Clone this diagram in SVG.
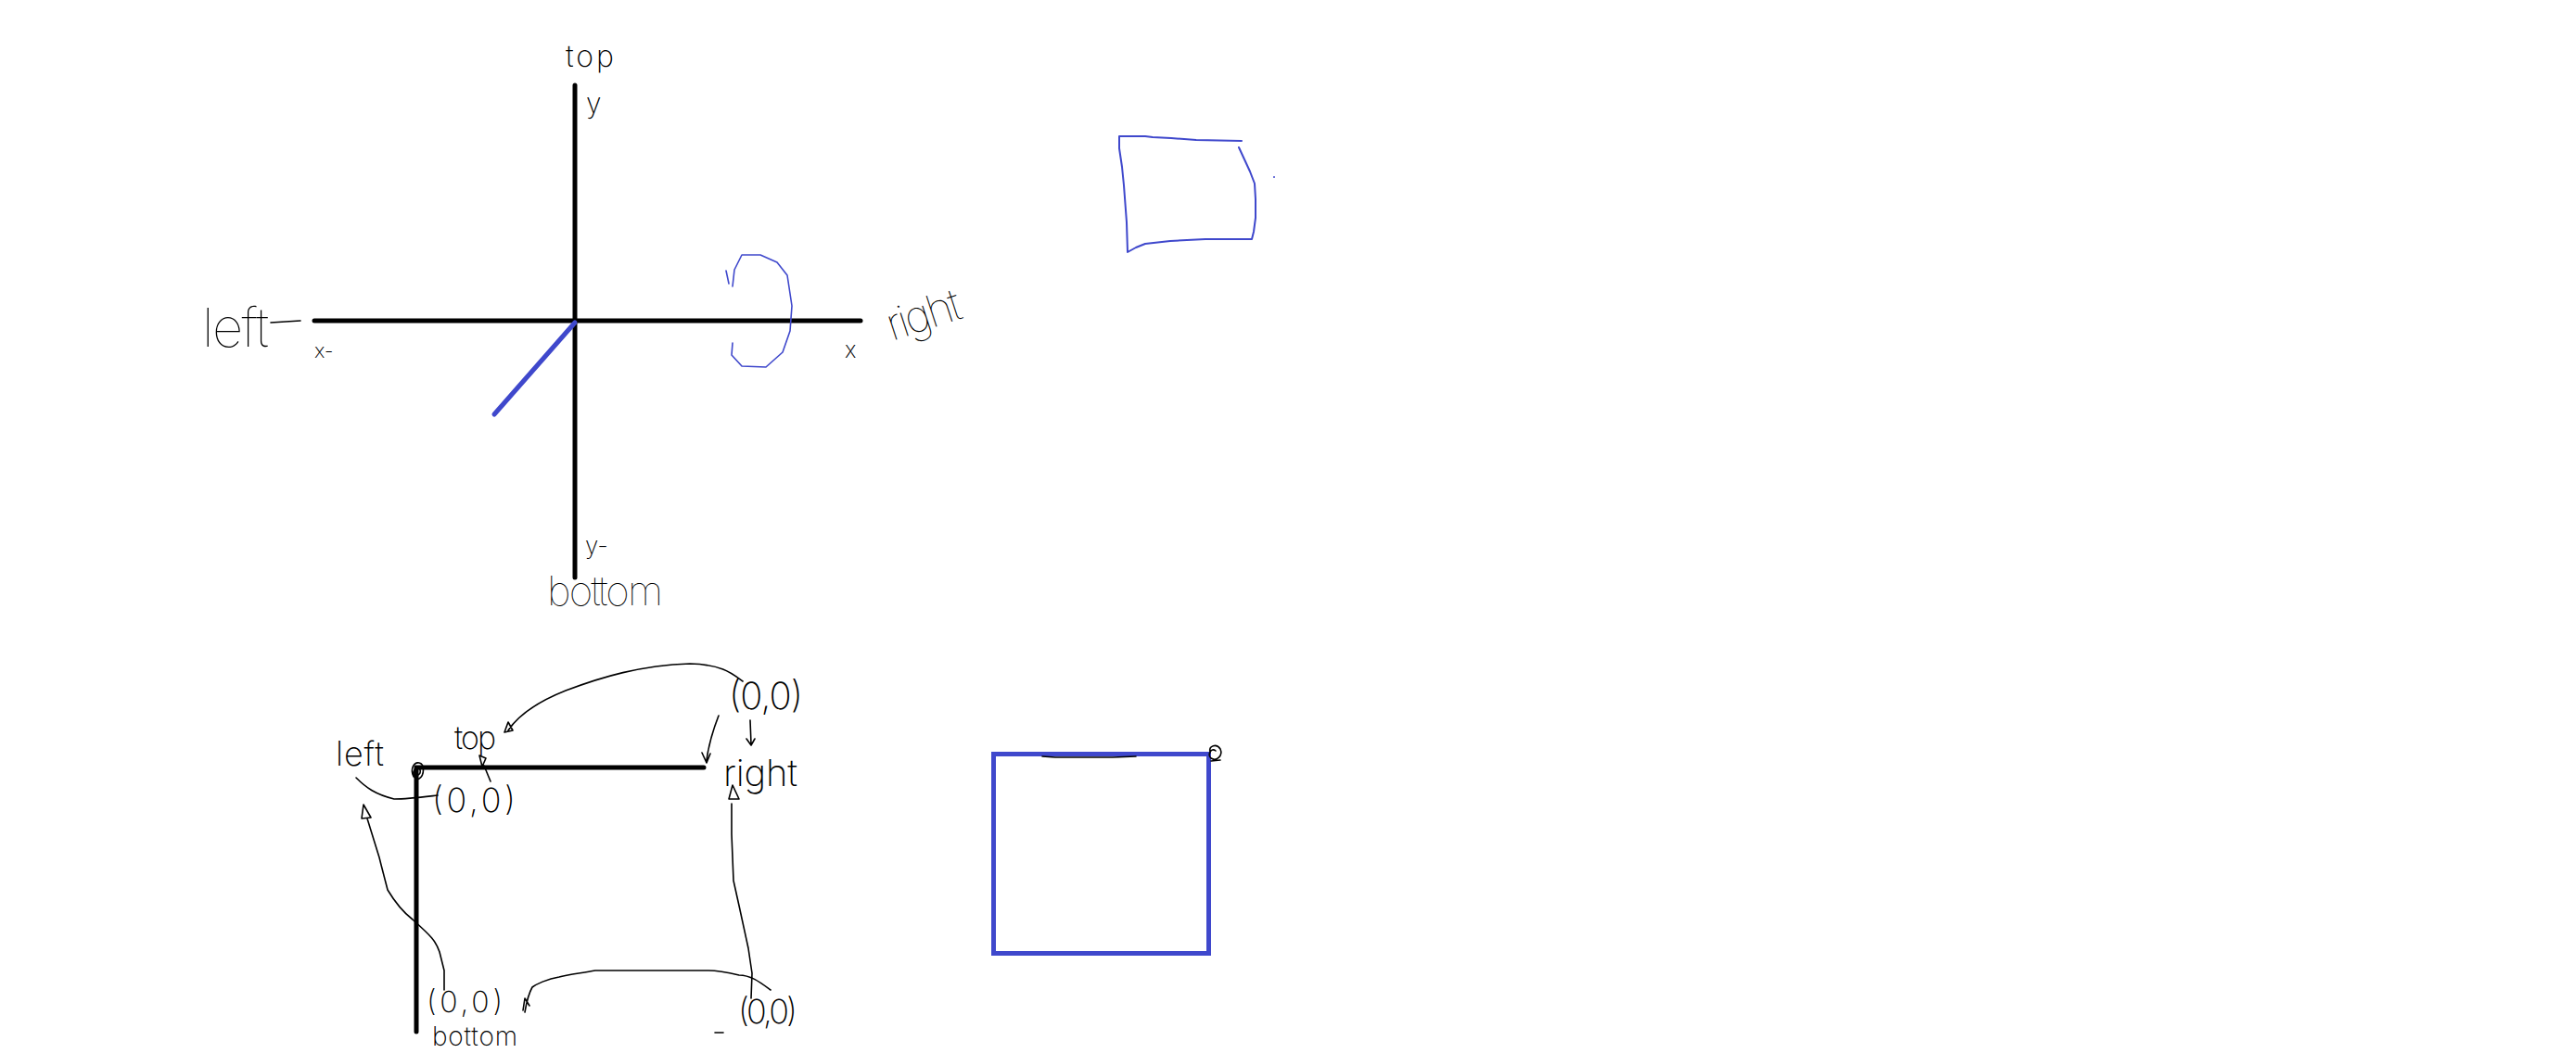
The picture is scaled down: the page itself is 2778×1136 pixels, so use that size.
<svg xmlns="http://www.w3.org/2000/svg" width="2778" height="1136" viewBox="0 0 2778 1136">
<style>
.ax{stroke:#000;stroke-width:5;stroke-linecap:round;fill:none}
.bl{stroke:#3f48cc;fill:none;stroke-linecap:round;stroke-linejoin:round}
.ln{stroke:#000;stroke-width:1.6;fill:none;stroke-linecap:round;stroke-linejoin:round}
.t{font-family:Inter,"Liberation Sans",sans-serif;font-weight:200;fill:#000}
.th{font-weight:100}
</style>
<rect width="2778" height="1136" fill="#fff"/>
<g id="axes">
<line class="ax" x1="620" y1="92" x2="620" y2="623"/>
<line class="ax" x1="339" y1="346" x2="928" y2="346"/>
<line class="bl" x1="620" y1="348" x2="533" y2="447" stroke-width="5"/>
</g>
<g id="axis-labels">
<text class="t" x="610" y="72" font-size="32" textLength="52">top</text>
<text class="t" x="632" y="122" font-size="30">y</text>
<text class="t th" x="218" y="374" font-size="58" textLength="72">left</text>
<line class="ln" x1="292" y1="348" x2="324" y2="346"/>
<text class="t" x="339" y="386" font-size="22">x-</text>
<text class="t" x="911" y="386" font-size="24">x</text>
<text class="t th" x="962" y="368" font-size="48" textLength="82" transform="rotate(-18 962 368)">right</text>
<text class="t" x="631" y="598" font-size="26">y-</text>
<text class="t th" x="590" y="653" font-size="44" textLength="125">bottom</text>
</g>
<g id="rotation">
<path class="bl" stroke-width="1.6" d="M783,292 L786,306 M790,309 L792,291 L800,275 L820,275 L838,283 L849,297 L854,330 L852,357 L844,380 L826,396 L800,395 L789,383 L790,370"/>
</g>
<g id="quad">
<path class="bl" stroke-width="2" d="M1339,152 L1290,151 L1277,150 L1263,149 L1243,148 L1235,147 L1207,147 L1207,160 L1210,180 L1212,200 L1215,240 L1216,272 L1225,267 L1235,263 L1262,260 L1300,258 L1350,258 L1352,250 L1354,235 L1354,215 L1353,198 L1348,185 L1342,172 L1336,159"/>
<circle cx="1374" cy="191" r="1" fill="#3f48cc"/>
</g>
<g id="corner">
<path class="ax" d="M759,828 L449,828 L449,1113"/>
<path class="ln" d="M446,838 C442,830 446,822 452,823 C458,824 458,836 452,840 C446,843 444,832 449,828 C453,826 455,834 451,836"/>
</g>
<g id="square">
<rect x="1071.5" y="813.5" width="232" height="215" stroke="#3f48cc" stroke-width="5" fill="none"/>
<path class="ln" d="M1124,816 L1138,817 L1200,817 L1225,816"/>
<path class="ln" d="M1305,812 C1303,804 1312,802 1316,808 C1319,815 1312,822 1306,818 C1302,814 1306,806 1311,810 M1306,821 L1316,820"/>
</g>
<g id="labels">
<text class="t" x="362" y="826" font-size="36" textLength="52">left</text>
<text class="t" x="490" y="808" font-size="34" textLength="45">top</text>
<text class="t" x="466" y="876" font-size="36" textLength="90">(0,0)</text>
<text class="t" x="786" y="765" font-size="40" textLength="80">(0,0)</text>
<text class="t" x="780" y="848" font-size="40" textLength="80">right</text>
<text class="t" x="460" y="1092" font-size="32" textLength="82">(0,0)</text>
<text class="t" x="466" y="1128" font-size="28" textLength="92">bottom</text>
<text class="t" x="796" y="1104" font-size="36" textLength="64">(0,0)</text>
</g>
<g id="connectors">
<path class="ln" d="M801,735 C790,727 780,717 744,716 C690,718 650,730 610,745 C585,755 560,770 548,788 M544,790 L548,779 L553,788 Z"/>
<path class="ln" d="M809,777 L810,803 M805,797 L810,804 L814,797"/>
<path class="ln" d="M775,772 C768,790 764,805 762,820 M757,812 L762,823 L766,813"/>
<path class="ln" d="M520,827 L517,815 L524,818 Z M522,826 L529,843"/>
<path class="ln" d="M384,839 C395,850 405,857 425,862 C440,862 455,860 472,858"/>
<path class="ln" d="M479,1068 L479,1047 L474,1027 C470,1015 465,1010 445,992 C432,982 424,970 418,960 L411,933 L409,925 L396,883 M390,883 L392,868 L400,882 Z"/>
<path class="ln" d="M810,1077 L811,1050 L807,1023 L797,977 L791,950 L789,900 L789,867 M786,862 L790,847 L797,862 Z"/>
<path class="ln" d="M831,1068 C820,1060 810,1052 797,1052 C780,1048 770,1047 764,1047 L642,1047 C625,1050 610,1052 603,1054 C590,1056 578,1062 574,1065 C570,1072 568,1080 566,1092 M564,1090 L566,1077 L571,1085"/>
<line class="ln" x1="771" y1="1114" x2="780" y2="1114"/>
</g>
</svg>
